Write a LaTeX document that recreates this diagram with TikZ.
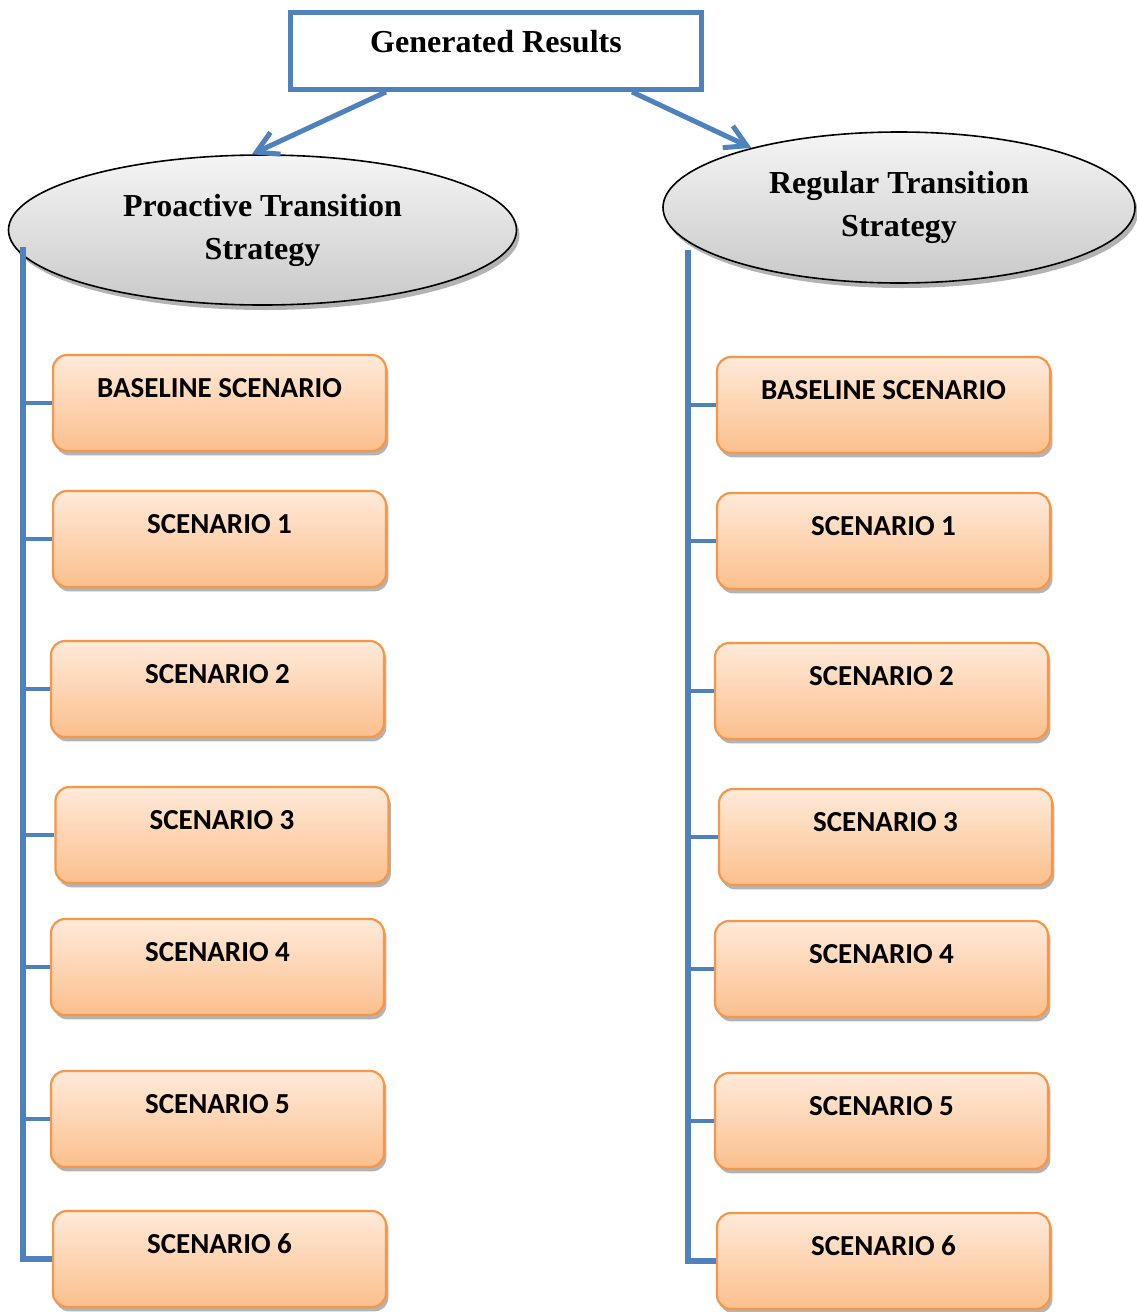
\documentclass[tikz,border=0pt]{standalone}
\usepackage{fontspec}
\setmainfont{Liberation Serif}
\newfontfamily\scenariofont{Carlito}
\usetikzlibrary{shapes.geometric,shadows,arrows.meta}

\definecolor{linkblue}{RGB}{79,129,189}
\definecolor{boxorange}{RGB}{247,150,70}
\definecolor{boxtop}{RGB}{255,234,218}
\definecolor{boxbottom}{RGB}{251,191,140}

\tikzset{
  results/.style  = {shape=rectangle, draw=linkblue, line width=2.4pt,
                     minimum width=205.5pt, minimum height=38.5pt,
                     font=\fontsize{16}{19}\selectfont\bfseries,
                     text height=11pt, text depth=9.4pt},
  strategy/.style = {shape=ellipse, draw=black, line width=0.8pt, inner sep=0pt,
                     align=center, top color=gray!8, bottom color=gray!42,
                     font=\fontsize{16}{21.5}\selectfont\bfseries,
                     drop shadow={shadow xshift=1.5pt, shadow yshift=-2.5pt,
                                  fill=gray, opacity=0.6}},
  scenario/.style = {shape=rectangle, rounded corners=7pt,
                     draw=boxorange, line width=1.1pt,
                     top color=boxtop, bottom color=boxbottom,
                     minimum width=166.5pt, minimum height=48pt,
                     font=\fontsize{14.5}{17}\selectfont\scenariofont\bfseries,
                     text height=10pt, text depth=15.7pt,
                     drop shadow={shadow xshift=1.2pt, shadow yshift=-2.2pt,
                                  fill=gray, opacity=0.6}},
  flow/.style     = {draw=linkblue, line width=2.5pt,
                     -{Straight Barb[length=10.5pt,width=12pt]}},
  spine/.style    = {draw=linkblue, line width=3pt},
  twig/.style     = {draw=linkblue, line width=2pt}
}

\begin{document}
\begin{tikzpicture}[x=0.5pt, y=-0.5pt]
\useasboundingbox (0,0) rectangle (1136,1312);

% top and the two strategies
\node[results]  (gen) at (496,51) {Generated Results};
\node[strategy, minimum width=254pt, minimum height=75pt]
      (pro) at (262.5,230) {Proactive Transition\\Strategy};
\node[strategy, minimum width=236pt, minimum height=75.5pt]
      (reg) at (899,207.5) {Regular Transition\\Strategy};

\draw[flow] ([xshift=-55pt]gen.south) -- (pro.98);
\draw[flow] ([xshift=68pt]gen.south) -- (reg.158);

% proactive scenarios
\node[scenario] (p0) at (219.5,403)  {BASELINE SCENARIO};
\node[scenario] (p1) at (219.5,539)  {SCENARIO 1};
\node[scenario] (p2) at (217.5,689)  {SCENARIO 2};
\node[scenario] (p3) at (222,835)    {SCENARIO 3};
\node[scenario] (p4) at (217.5,967)  {SCENARIO 4};
\node[scenario] (p5) at (217.5,1119) {SCENARIO 5};
\node[scenario] (p6) at (219.5,1259) {SCENARIO 6};

% regular scenarios
\node[scenario] (r0) at (883.5,405)  {BASELINE SCENARIO};
\node[scenario] (r1) at (883.5,541)  {SCENARIO 1};
\node[scenario] (r2) at (881.5,691)  {SCENARIO 2};
\node[scenario] (r3) at (885.5,837)  {SCENARIO 3};
\node[scenario] (r4) at (881.5,969)  {SCENARIO 4};
\node[scenario] (r5) at (881.5,1121) {SCENARIO 5};
\node[scenario] (r6) at (883.5,1261) {SCENARIO 6};

% brackets
\coordinate (pspine) at (23,247);
\coordinate (rspine) at (688,250);
\draw[spine] (pspine) |- (p6.west);
\draw[spine] (rspine) |- (r6.west);
\draw[twig] (p0.west) -- (p0.west -| pspine);
\draw[twig] (p1.west) -- (p1.west -| pspine);
\draw[twig] (p2.west) -- (p2.west -| pspine);
\draw[twig] (p3.west) -- (p3.west -| pspine);
\draw[twig] (p4.west) -- (p4.west -| pspine);
\draw[twig] (p5.west) -- (p5.west -| pspine);
\draw[twig] (r0.west) -- (r0.west -| rspine);
\draw[twig] (r1.west) -- (r1.west -| rspine);
\draw[twig] (r2.west) -- (r2.west -| rspine);
\draw[twig] (r3.west) -- (r3.west -| rspine);
\draw[twig] (r4.west) -- (r4.west -| rspine);
\draw[twig] (r5.west) -- (r5.west -| rspine);
\end{tikzpicture}
\end{document}
